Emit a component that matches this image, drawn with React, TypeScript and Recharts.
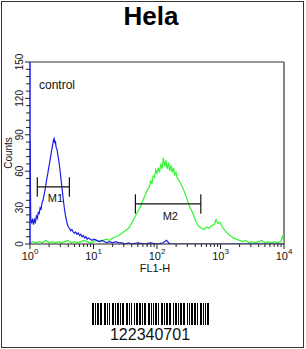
import React from 'react';
import {
  LineChart, Line, XAxis, YAxis, ReferenceLine, ReferenceDot,
} from 'recharts';

// FL1-H in decades (10^x) and event counts
const blueDecade = [
  0, 0.012, 0.025, 0.04, 0.055, 0.07, 0.085, 0.1, 0.115, 0.13, 0.145, 0.16, 0.175, 0.19, 0.205,
  0.22, 0.235, 0.25, 0.265, 0.28, 0.295, 0.31, 0.325, 0.34, 0.355, 0.37, 0.38, 0.39, 0.4, 0.41,
  0.425, 0.44, 0.455, 0.47, 0.485, 0.5, 0.515, 0.53, 0.545, 0.56, 0.575, 0.59, 0.605, 0.62, 0.64,
  0.66, 0.68, 0.7, 0.72, 0.74, 0.76, 0.78, 0.8, 0.82, 0.84, 0.86, 0.88, 0.9, 0.92, 0.95, 0.98,
  1.01, 1.05, 1.09, 1.13, 1.17, 1.21, 1.25, 1.3, 1.35, 1.4, 1.45, 1.5, 1.55, 1.6, 1.7, 1.8, 1.9,
  2.0, 2.1, 2.15, 2.2, 2.4, 2.8, 3.2, 3.6, 4.0,
];
const blueCount = [
  85, 20, 17, 21, 16, 20, 18, 23, 21, 26, 25, 30, 29, 34, 36,
  40, 44, 49, 54, 58, 63, 67, 72, 77, 81, 86, 87, 83, 85, 80,
  78, 73, 68, 62, 55, 48, 41, 34, 28, 23, 19, 16, 14, 13, 11,
  12, 10, 9, 10, 8, 9, 7, 8, 6, 7, 5, 6, 4, 5, 4, 3,
  4, 3, 2, 3, 2, 1, 2, 1, 2, 1, 1, 0, 1, 0, 1, 0, 1,
  0, 1, 3, 0, 0, 0, 0, 0, 0,
];

const greenDecade = [
  0, 0.05, 0.1, 0.15, 0.2, 0.25, 0.3, 0.35, 0.4, 0.45, 0.5, 0.55, 0.6, 0.65, 0.7, 0.75, 0.8,
  0.85, 0.9, 0.95, 1.0, 1.05, 1.1, 1.15, 1.2, 1.25, 1.3, 1.35, 1.4, 1.45, 1.5, 1.55, 1.6, 1.65,
  1.7, 1.74, 1.78, 1.82, 1.86, 1.88, 1.9, 1.92, 1.94, 1.96, 1.98, 2.0, 2.02, 2.04, 2.06, 2.08,
  2.1, 2.12, 2.14, 2.16, 2.18, 2.2, 2.22, 2.24, 2.26, 2.28, 2.3, 2.32, 2.34, 2.37, 2.4, 2.43,
  2.46, 2.49, 2.52, 2.55, 2.58, 2.61, 2.64, 2.67, 2.7, 2.74, 2.78, 2.82, 2.86, 2.9, 2.93, 2.96,
  2.99, 3.03, 3.07, 3.11, 3.15, 3.2, 3.25, 3.3, 3.35, 3.4, 3.45, 3.5, 3.55, 3.6, 3.65, 3.7, 3.75,
  3.8, 3.85, 3.9, 3.95, 3.98, 4.0,
];
const greenCount = [
  1, 2, 1, 2, 1, 3, 1, 2, 1, 2, 1, 2, 3, 1, 2, 1, 2,
  3, 2, 1, 2, 3, 2, 3, 4, 3, 5, 6, 7, 9, 11, 13, 17, 22,
  27, 31, 36, 41, 46, 47, 52, 50, 56, 55, 61, 58, 63, 59, 66, 62,
  71, 64, 69, 62, 67, 60, 65, 59, 63, 57, 59, 54, 53, 50, 47, 43,
  39, 34, 30, 27, 23, 19, 16, 14, 13, 12, 14, 13, 15, 16, 20, 17,
  18, 14, 11, 9, 7, 5, 4, 3, 2, 3, 1, 2, 1, 2, 3, 1, 2,
  1, 2, 1, 2, 7, 0,
];

const yMajor = [0, 30, 60, 90, 120, 150];
const xMajor = [0, 1, 2, 3, 4];

// gates: name, from / to (decades), height (counts), label position
const gates = [
  { name: 'M1', from: 0.115, to: 0.62, y: 47, labelX: 0.4, labelY: 38 },
  { name: 'M2', from: 1.66, to: 2.69, y: 33, labelX: 2.21, labelY: 23 },
];

const barcode = '110101101100110101001101011010110011010100101101101011001101010110100110101101100101101011011001010110110100110101011';

const blueData = blueDecade.map((d, i) => ({ decade: d, count: blueCount[i] }));
const greenData = greenDecade.map((d, i) => ({ decade: d, count: greenCount[i] }));

const yTicks: number[] = [];
for (let v = 0; v <= 150; v += 6) yTicks.push(v);
const xTicks: number[] = [];
xMajor.forEach((d) => {
  xTicks.push(d);
  if (d < 4) for (let k = 2; k <= 9; k++) xTicks.push(d + Math.log10(k));
});

const font = '"Liberation Sans", Arial, sans-serif';
const blue = '#1c1ce8';
const green = '#33f533';

const XTick = (props: any) => {
  const { x, y, payload } = props;
  const v = payload.value;
  const major = Math.abs(v - Math.round(v)) < 1e-6;
  return (
    <g>
      <line x1={x} x2={x} y1={y} y2={y + (major ? 5 : 3)} stroke="#222" />
      {major && (
        <text x={x} y={y + 16} textAnchor="middle" fontSize={11} fontFamily={font} fill="#111">
          10<tspan dy={-6} fontSize={8}>{Math.round(v)}</tspan>
        </text>
      )}
    </g>
  );
};

const YTick = (props: any) => {
  const { x, y, payload } = props;
  const v = payload.value;
  const major = yMajor.includes(v);
  return (
    <g>
      <line x1={x - (major ? 5 : 4)} x2={x} y1={y} y2={y} stroke="#222" />
      {major && (
        <text transform={`translate(${x - 7},${y}) rotate(-90)`} textAnchor="middle" fontSize={10} fontFamily={font} fill="#111">
          {v}
        </text>
      )}
    </g>
  );
};

export default function App() {
  return (
    <div style={{ position: 'fixed', left: 0, top: 0, width: 306, height: 349, background: '#fff' }}>
      <LineChart width={306} height={349} margin={{ top: 62, right: 22, bottom: 0, left: 0 }}>
        <XAxis
          type="number"
          dataKey="decade"
          domain={[0, 4]}
          ticks={xTicks}
          interval={0}
          tickSize={0}
          tickMargin={0}
          tick={<XTick />}
          axisLine={{ stroke: '#222' }}
          height={105}
          allowDataOverflow
        />
        <YAxis
          type="number"
          domain={[0, 150]}
          ticks={yTicks}
          interval={0}
          tickSize={0}
          tickMargin={0}
          tick={<YTick />}
          axisLine={{ stroke: blue, strokeWidth: 1.5 }}
          width={30}
          allowDataOverflow
        />
        <ReferenceLine y={150} stroke="#333" strokeWidth={1.2} />
        <ReferenceLine x={4} stroke="#333" strokeWidth={1.2} />
        <Line data={greenData} dataKey="count" type="linear" stroke={green} strokeWidth={1.2} dot={false} isAnimationActive={false} />
        <Line data={blueData} dataKey="count" type="linear" stroke={blue} strokeWidth={1.2} dot={false} isAnimationActive={false} />
        {gates.map((g) => (
          <ReferenceLine key={g.name} segment={[{ x: g.from, y: g.y }, { x: g.to, y: g.y }]} stroke="#111" strokeWidth={1.2} />
        ))}
        {gates.map((g) => (
          <ReferenceLine key={g.name + 'a'} segment={[{ x: g.from, y: g.y - 8 }, { x: g.from, y: g.y + 8 }]} stroke="#111" strokeWidth={1.2} />
        ))}
        {gates.map((g) => (
          <ReferenceLine key={g.name + 'b'} segment={[{ x: g.to, y: g.y - 8 }, { x: g.to, y: g.y + 8 }]} stroke="#111" strokeWidth={1.2} />
        ))}
        {gates.map((g) => (
          <ReferenceDot
            key={g.name + 'l'}
            x={g.labelX}
            y={g.labelY}
            r={0}
            fill="none"
            stroke="none"
            label={{ value: g.name, position: 'center', fontSize: 11, fontFamily: font, fill: '#111' }}
          />
        ))}
      </LineChart>
      <svg width={306} height={349} style={{ position: 'absolute', left: 0, top: 0, pointerEvents: 'none' }}>
        <rect x={1.5} y={1.5} width={302} height={346} fill="none" stroke="#333" strokeWidth={1} />
        <text x={151} y={25} textAnchor="middle" fontSize={26} fontWeight="bold" fontFamily={font} fill="#000">Hela</text>
        <text x={39} y={89} fontSize={12} fontFamily={font} fill="#111">control</text>
        <text transform="translate(12,153) rotate(-90)" textAnchor="middle" fontSize={10} fontFamily={font} fill="#111">Counts</text>
        <text x={155} y={272} textAnchor="middle" fontSize={11} fontFamily={font} fill="#111">FL1-H</text>
        {barcode.split('').map((c, i) => (c === '1' ? <rect key={i} x={92 + i} y={303} width={1} height={22} fill="#000" /> : null))}
        <text x={150} y={340} textAnchor="middle" fontSize={16} fontFamily={font} fill="#111">122340701</text>
      </svg>
    </div>
  );
}
